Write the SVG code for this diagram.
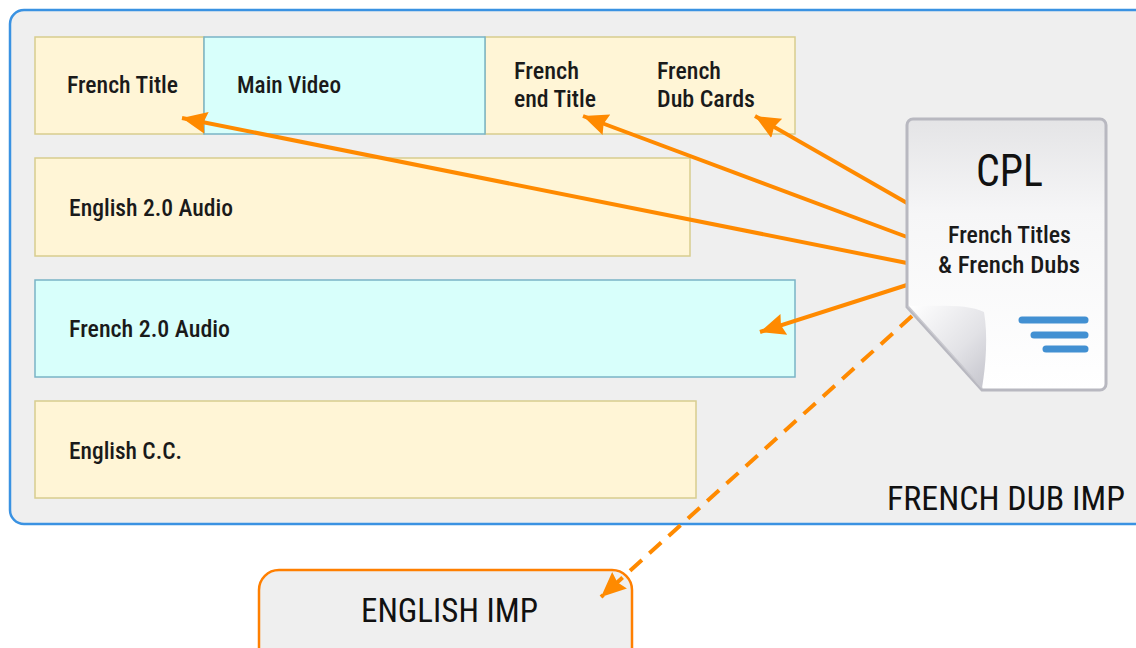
<svg xmlns="http://www.w3.org/2000/svg" width="1136" height="648" viewBox="0 0 1136 648">
<style>
.lbl{font-family:"Liberation Sans Narrow","Roboto Condensed",Roboto,"Liberation Sans",Arial,sans-serif;font-size:23px;font-weight:500;fill:#1a1a1a}
.big{font-family:"Liberation Sans Narrow","Roboto Condensed",Roboto,"Liberation Sans",Arial,sans-serif;font-size:34px;font-weight:400;fill:#111}
.yel{fill:#fff5d6;stroke:#d8cd8e;stroke-width:1.5}
.cyn{fill:#d8fffb;stroke:#7ab4c6;stroke-width:1.5}
.arr{stroke:#ff8a00;stroke-width:4;fill:none}
.dash{stroke:#ff8a00;stroke-width:4;fill:none;stroke-dasharray:16 10}
.bl{stroke:#4290d2;stroke-width:7;stroke-linecap:round}
</style>
<defs>
<marker id="ah" markerUnits="userSpaceOnUse" markerWidth="30" markerHeight="30" viewBox="0 0 30 30" refX="25" refY="15" orient="auto">
<path d="M0,4 L25,15 L0,26 L3,15 Z" fill="#ff8a00"/>
</marker>
<linearGradient id="docg" x1="0" y1="0" x2="0" y2="1">
<stop offset="0" stop-color="#e4e4e6"/>
<stop offset="0.35" stop-color="#f6f6f7"/>
<stop offset="1" stop-color="#ffffff"/>
</linearGradient>
<linearGradient id="flapg" x1="0" y1="0" x2="1" y2="1">
<stop offset="0" stop-color="#ffffff"/>
<stop offset="0.6" stop-color="#e2e2e6"/>
<stop offset="1" stop-color="#c4c4cc"/>
</linearGradient>
</defs>
<rect width="1136" height="648" fill="#ffffff"/>
<g id="french-dub-imp">
<rect x="10" y="10" width="1140" height="514" rx="14" fill="#efefef" stroke="#3a92e2" stroke-width="2.5"/>
<text class="big" x="887" y="510" textLength="238" lengthAdjust="spacingAndGlyphs">FRENCH DUB IMP</text>
</g>
<g id="french-title">
<rect class="yel" x="35" y="37" width="169" height="97"/>
<text class="lbl" x="67" y="93" textLength="111" lengthAdjust="spacingAndGlyphs">French Title</text>
</g>
<g id="french-end-dub">
<rect class="yel" x="485" y="37" width="310" height="97"/>
<text class="lbl" x="514" y="79" textLength="65" lengthAdjust="spacingAndGlyphs">French</text>
<text class="lbl" x="514" y="107" textLength="82" lengthAdjust="spacingAndGlyphs">end Title</text>
<text class="lbl" x="657" y="79" textLength="64" lengthAdjust="spacingAndGlyphs">French</text>
<text class="lbl" x="657" y="107" textLength="98" lengthAdjust="spacingAndGlyphs">Dub Cards</text>
</g>
<g id="main-video">
<rect class="cyn" x="204" y="37" width="281" height="97"/>
<text class="lbl" x="237" y="93" textLength="104" lengthAdjust="spacingAndGlyphs">Main Video</text>
</g>
<g id="english-audio">
<rect class="yel" x="35" y="158" width="655" height="98"/>
<text class="lbl" x="69" y="216" textLength="164" lengthAdjust="spacingAndGlyphs">English 2.0 Audio</text>
</g>
<g id="french-audio">
<rect class="cyn" x="35" y="280" width="760" height="97"/>
<text class="lbl" x="69" y="337" textLength="161" lengthAdjust="spacingAndGlyphs">French 2.0 Audio</text>
</g>
<g id="english-cc">
<rect class="yel" x="35" y="401" width="661" height="97"/>
<text class="lbl" x="69" y="459" textLength="113" lengthAdjust="spacingAndGlyphs">English C.C.</text>
</g>
<g id="english-imp">
<rect x="259" y="570" width="373" height="100" rx="20" fill="#efefef" stroke="#ff7f00" stroke-width="2.5"/>
<text class="big" x="361" y="622" textLength="177" lengthAdjust="spacingAndGlyphs">ENGLISH IMP</text>
</g>
<g id="connectors">
<line class="arr" x1="907" y1="203" x2="755" y2="116" marker-end="url(#ah)"/>
<line class="arr" x1="907" y1="237" x2="583" y2="116" marker-end="url(#ah)"/>
<line class="arr" x1="907" y1="263" x2="182" y2="118" marker-end="url(#ah)"/>
<line class="arr" x1="907" y1="285" x2="760" y2="332" marker-end="url(#ah)"/>
<line class="dash" x1="912" y1="316" x2="601" y2="597" marker-end="url(#ah)"/>
</g>
<g id="cpl">
<path d="M913,119 H1100 A6,6 0 0 1 1106,125 V384 A6,6 0 0 1 1100,390 H982 L907,307 V125 A6,6 0 0 1 913,119 Z" fill="url(#docg)" stroke="#b8b8c0" stroke-width="3"/>
<path d="M908,306 C940,306 968,304 984,312 C988,335 986,365 982,388 Z" fill="url(#flapg)"/>
<path d="M908,306 L982,388" stroke="#c9c9cf" stroke-width="1.5"/>
<text class="big" x="976" y="186" textLength="67" lengthAdjust="spacingAndGlyphs" style="font-size:44px">CPL</text>
<text class="lbl" x="948" y="243" textLength="123" lengthAdjust="spacingAndGlyphs">French Titles</text>
<text class="lbl" x="938" y="273" textLength="142" lengthAdjust="spacingAndGlyphs">&amp; French Dubs</text>
<line class="bl" x1="1022" y1="320" x2="1085" y2="320"/>
<line class="bl" x1="1034" y1="335" x2="1085" y2="335"/>
<line class="bl" x1="1046" y1="349" x2="1085" y2="349"/>
</g>
</svg>
